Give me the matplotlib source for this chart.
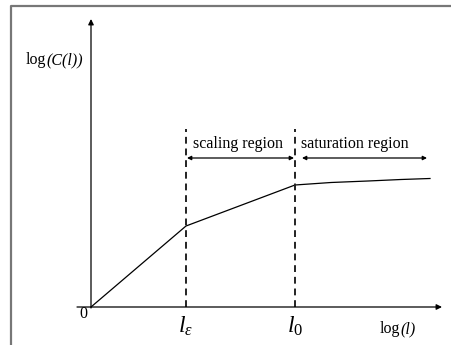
import matplotlib.pyplot as plt
from matplotlib.patches import FancyArrowPatch

plt.rcParams.update({
    "font.family": "Liberation Serif",
    "mathtext.fontset": "custom",
    "mathtext.rm": "Liberation Serif",
    "mathtext.it": "Liberation Serif:italic",
})

# sketch of log C(l) against log l
log_l = [0, 95, 204, 240, 277, 310, 339]
log_c = [0, 81, 122, 124.5, 126, 127.5, 128.5]
l_eps = 95
l_zero = 204

fig = plt.figure(figsize=(4.52, 3.45), dpi=100)
ax = fig.add_axes([0, 0, 1, 1])
ax.set_xlim(-91, 361)
ax.set_ylim(-38, 307)
ax.axis("off")

# frame around the sketch
ax.plot([-80, -80, 361], [-38, 301, 301], color="#777777", lw=1.6,
        solid_capstyle="butt")

# axes with arrow heads
ax.annotate("", xy=(351, 0), xytext=(-14, 0),
            arrowprops=dict(arrowstyle="-|>", color="black", lw=0.9,
                            mutation_scale=8, shrinkA=0, shrinkB=0))
ax.annotate("", xy=(0, 288), xytext=(0, -1),
            arrowprops=dict(arrowstyle="-|>", color="black", lw=0.9,
                            mutation_scale=8, shrinkA=0, shrinkB=0))

ax.plot(log_l, log_c, color="black", lw=0.9)

for xv in (l_eps, l_zero):
    ax.plot([xv, xv], [0, 178], color="#222222", lw=1.4, ls=(0, (3.5, 2.5)))

# region arrows
for x0, x1 in ((l_eps + 1, l_zero - 1), (l_zero + 7, 336)):
    ax.add_patch(FancyArrowPatch((x0, 149), (x1, 149), arrowstyle="<|-|>",
                                 mutation_scale=6, color="black", lw=0.9,
                                 shrinkA=0, shrinkB=0))

fs = 11.5
ax.text(147, 163, "scaling region", ha="center", va="center", fontsize=fs)
ax.text(264, 163, "saturation region", ha="center", va="center", fontsize=fs)

ax.text(-45, 247, "log", ha="right", va="center", fontsize=fs)
ax.text(-45, 247, "(C(l))", ha="left", va="center", fontsize=fs,
        fontstyle="italic")
ax.text(-8, -7, "0", ha="center", va="center", fontsize=fs)
ax.text(l_eps, -19, r"$l_\varepsilon$", ha="center", va="center", fontsize=17)
ax.text(l_zero, -19, r"$l_0$", ha="center", va="center", fontsize=17)
ax.text(309, -22, "log", ha="right", va="center", fontsize=fs)
ax.text(309, -22, "(l)", ha="left", va="center", fontsize=fs,
        fontstyle="italic")

fig.savefig("out.png", dpi=100)
